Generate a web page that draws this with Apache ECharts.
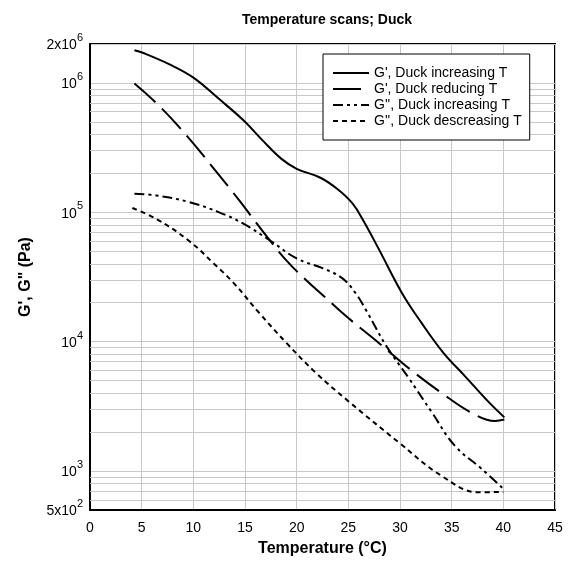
<!DOCTYPE html>
<html>
<head>
<meta charset="utf-8">
<script src="https://cdn.jsdelivr.net/npm/echarts@6/dist/echarts.min.js"></script>
<style>
  html, body { margin: 0; padding: 0; background: #fff; }
  #chart { width: 572px; height: 563px; }
</style>
</head>
<body>
<div id="chart"></div>
<script>
// [temperature (°C), modulus (Pa)]
const gPrimeIncreasing = [
  [4.3, 1.79e6], [5.1, 1.71e6], [7.7, 1.39e6], [10, 1.1e6], [12.5, 7.5e5],
  [14.9, 5.1e5], [16.7, 3.6e5], [18.5, 2.6e5], [20, 2.17e5], [22.3, 1.85e5],
  [24, 1.5e5], [25.4, 1.17e5], [26.5, 8.5e4], [28, 5.1e4], [30.2, 2.37e4],
  [32.1, 1.39e4], [34.2, 8.2e3], [36.3, 5.4e3], [38.5, 3.47e3], [40.1, 2.6e3]
];
const gPrimeReducing = [
  [4.3, 9.9e5], [6.7, 6.65e5], [9.5, 3.8e5], [12, 2.17e5], [14.5, 1.22e5],
  [16.8, 7e4], [19, 4.25e4], [20.9, 3e4], [22.5, 2.3e4], [24.8, 1.57e4],
  [28, 9.7e3], [31, 6.1e3], [34, 4.03e3], [36.9, 2.83e3], [39.2, 2.44e3],
  [40.1, 2.5e3]
];
const gDoubleIncreasing = [
  [4.3, 1.39e5], [6.4, 1.35e5], [9.6, 1.2e5], [12.5, 1.0e5], [14.8, 8.2e4],
  [17.5, 6e4], [20, 4.4e4], [22.5, 3.7e4], [24.4, 3.1e4], [25.7, 2.37e4],
  [26.7, 1.76e4], [28.7, 9.2e3], [30.8, 5.3e3], [33.1, 2.83e3], [35.3, 1.57e3],
  [37.9, 1.04e3], [40, 730]
];
const gDoubleDecreasing = [
  [4.1, 1.08e5], [6.4, 8.9e4], [9.6, 6e4], [12, 4.0e4], [13.8, 2.9e4],
  [16.4, 1.66e4], [19, 9.8e3], [21.9, 5.7e3], [25, 3.47e3], [29.9, 1.66e3],
  [34, 920], [37.6, 685], [40, 690]
];
const seriesNames = [
  "G', Duck increasing T",
  "G', Duck reducing T",
  "G'', Duck increasing T",
  "G'', Duck descreasing T"
];
// minor log gridlines (2..9 of each decade)
const minorGrid = [
  600, 700, 800, 900,
  2000, 3000, 4000, 5000, 6000, 7000, 8000, 9000,
  20000, 30000, 40000, 50000, 60000, 70000, 80000, 90000,
  200000, 300000, 400000, 500000, 600000, 700000, 800000, 900000
];

const FONT = 'Liberation Sans, Arial, sans-serif';

function sciLabel(v) {
  const e = Math.floor(Math.log10(v) + 1e-6);
  const m = Math.round(v / Math.pow(10, e));
  return '{b|' + (m === 1 ? '' : m + 'x') + '10}{s|' + e + '}';
}

function curve(name, data, dash) {
  return {
    name: name,
    type: 'line',
    data: data,
    smooth: 0.4,
    symbol: 'none',
    z: 3,
    itemStyle: { color: '#000' },
    lineStyle: { color: '#000', width: 2, type: dash }
  };
}

const chart = echarts.init(document.getElementById('chart'));
chart.setOption({
  animation: false,
  backgroundColor: '#fff',
  textStyle: { fontFamily: FONT },
  title: {
    text: 'Temperature scans; Duck',
    left: 322, top: 8, textAlign: 'center',
    textStyle: { fontSize: 14, fontWeight: 'bold', color: '#000', fontFamily: FONT }
  },
  legend: {
    orient: 'vertical',
    left: 323, top: 54,
    z: 10,
    padding: [12, 8, 12, 9],
    itemGap: 2,
    itemWidth: 36, itemHeight: 14,
    backgroundColor: '#fff',
    borderColor: '#000', borderWidth: 1,
    itemStyle: { opacity: 0 },
    textStyle: { fontSize: 14, color: '#000', fontFamily: FONT },
    data: seriesNames
  },
  grid: {
    left: 90, right: 17, top: 44, bottom: 53,
    show: true, borderColor: '#000', borderWidth: 2
  },
  xAxis: {
    type: 'value',
    min: 0, max: 45, interval: 5,
    name: 'Temperature (°C)',
    nameLocation: 'middle', nameGap: 31,
    nameTextStyle: { fontSize: 16, fontWeight: 'bold', color: '#000', fontFamily: FONT },
    axisLine: { lineStyle: { color: '#000', width: 2 } },
    axisTick: { show: false },
    axisLabel: { fontSize: 14, color: '#000', margin: 11, fontFamily: FONT },
    splitLine: { lineStyle: { color: '#c8c8c8', width: 1 } }
  },
  yAxis: {
    type: 'log',
    logBase: 10,
    min: 500, max: 2e6,
    name: "G', G\" (Pa)",
    nameLocation: 'middle', nameGap: 56,
    nameTextStyle: { fontSize: 16, fontWeight: 'bold', color: '#000', fontFamily: FONT },
    axisLine: { lineStyle: { color: '#000', width: 2 } },
    axisTick: { show: false },
    axisLabel: {
      margin: 7,
      padding: [0, 0, 3, 0],
      formatter: sciLabel,
      rich: {
        b: { fontSize: 14, color: '#000', fontFamily: FONT, verticalAlign: 'bottom' },
        s: { fontSize: 11, color: '#000', fontFamily: FONT, verticalAlign: 'top', lineHeight: 20 }
      }
    },
    splitLine: { lineStyle: { color: '#c8c8c8', width: 1 } }
  },
  series: [
    {
      type: 'line',
      data: [],
      z: 1,
      silent: true,
      markLine: {
        silent: true,
        z: 1,
        symbol: 'none',
        label: { show: false },
        lineStyle: { color: '#c8c8c8', width: 1, type: 'solid' },
        emphasis: { disabled: true },
        data: minorGrid.map(function (v) { return { yAxis: v }; })
      }
    },
    curve(seriesNames[0], gPrimeIncreasing, 'solid'),
    curve(seriesNames[1], gPrimeReducing, [28, 9]),
    curve(seriesNames[2], gDoubleIncreasing, [10, 4, 3, 4, 3, 4]),
    curve(seriesNames[3], gDoubleDecreasing, [5, 4])
  ]
});
</script>
</body>
</html>
